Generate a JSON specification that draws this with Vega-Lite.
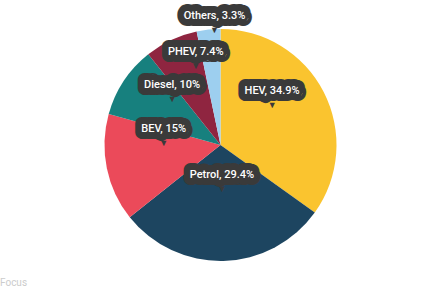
{
  "$schema": "https://vega.github.io/schema/vega-lite/v6.json",
  "width": 441,
  "height": 290,
  "padding": 0,
  "autosize": "none",
  "background": "white",
  "config": {"view": {"stroke": null}},
  "title": {"text": "Focus", "orient": "bottom", "anchor": "start", "frame": "group", "offset": -4, "fontSize": 10, "font": "Roboto", "color": "#cccccc", "fontWeight": "normal", "baseline": "alphabetic"},
  "data": {
    "values": [
      {"category": "HEV", "share": 34.9, "label": "HEV, 34.9%", "idx": 1},
      {"category": "Petrol", "share": 29.4, "label": "Petrol, 29.4%", "idx": 2},
      {"category": "BEV", "share": 15, "label": "BEV, 15%", "idx": 3},
      {"category": "Diesel", "share": 10, "label": "Diesel, 10%", "idx": 4},
      {"category": "PHEV", "share": 7.4, "label": "PHEV, 7.4%", "idx": 5},
      {"category": "Others", "share": 3.3, "label": "Others, 3.3%", "idx": 6}
    ]
  },
  "encoding": {
    "theta": {"field": "share", "type": "quantitative", "stack": true},
    "order": {"field": "idx", "type": "quantitative"}
  },
  "layer": [
    {
      "mark": {"type": "arc", "outerRadius": 116},
      "encoding": {
        "color": {"field": "category", "type": "nominal", "legend": null,
          "scale": {"domain": ["HEV", "Petrol", "BEV", "Diesel", "PHEV", "Others"],
                    "range": ["#fac42f", "#1d4560", "#eb4a5a", "#17807e", "#8f2540", "#9dcfef"]}}
      }
    },
    {
      "mark": {"type": "text", "radius": 58, "dy": -28, "font": "Roboto", "fontWeight": 500, "fontSize": 11, "fill": "#3a3a3a", "stroke": "#3a3a3a", "strokeWidth": 14, "strokeJoin": "round"},
      "encoding": {"text": {"field": "label"}, "detail": {"field": "category"},
        "opacity": {"condition": {"test": "datum.category === 'PHEV' || datum.category === 'Others'", "value": 0}, "value": 1}}
    },
    {
      "mark": {"type": "text", "radius": 58, "dy": -14, "text": "▼", "fontSize": 9, "fill": "#3a3a3a"},
      "encoding": {"detail": {"field": "category"},
        "opacity": {"condition": {"test": "datum.category === 'PHEV' || datum.category === 'Others'", "value": 0}, "value": 1}}
    },
    {
      "mark": {"type": "text", "radius": 58, "dy": -28, "font": "Roboto", "fontWeight": 500, "fontSize": 11, "fill": "white"},
      "encoding": {"text": {"field": "label"}, "detail": {"field": "category"},
        "opacity": {"condition": {"test": "datum.category === 'PHEV' || datum.category === 'Others'", "value": 0}, "value": 1}}
    },
    {
      "mark": {"type": "text", "radius": 58, "dy": -41, "font": "Roboto", "fontWeight": 500, "fontSize": 11, "fill": "#3a3a3a", "stroke": "#3a3a3a", "strokeWidth": 14, "strokeJoin": "round"},
      "encoding": {"text": {"field": "label"}, "detail": {"field": "category"},
        "opacity": {"condition": {"test": "datum.category === 'PHEV'", "value": 1}, "value": 0}}
    },
    {
      "mark": {"type": "text", "radius": 58, "dy": -27, "text": "▼", "fontSize": 9, "fill": "#3a3a3a"},
      "encoding": {"detail": {"field": "category"},
        "opacity": {"condition": {"test": "datum.category === 'PHEV'", "value": 1}, "value": 0}}
    },
    {
      "mark": {"type": "text", "radius": 58, "dy": -41, "font": "Roboto", "fontWeight": 500, "fontSize": 11, "fill": "white"},
      "encoding": {"text": {"field": "label"}, "detail": {"field": "category"},
        "opacity": {"condition": {"test": "datum.category === 'PHEV'", "value": 1}, "value": 0}}
    },
    {
      "mark": {"type": "text", "radius": 58, "dy": -71, "font": "Roboto", "fontWeight": 500, "fontSize": 11, "fill": "#3a3a3a", "stroke": "#3a3a3a", "strokeWidth": 14, "strokeJoin": "round"},
      "encoding": {"text": {"field": "label"}, "detail": {"field": "category"},
        "opacity": {"condition": {"test": "datum.category === 'Others'", "value": 1}, "value": 0}}
    },
    {
      "mark": {"type": "text", "radius": 58, "dy": -57, "text": "▼", "fontSize": 9, "fill": "#3a3a3a"},
      "encoding": {"detail": {"field": "category"},
        "opacity": {"condition": {"test": "datum.category === 'Others'", "value": 1}, "value": 0}}
    },
    {
      "mark": {"type": "text", "radius": 58, "dy": -71, "font": "Roboto", "fontWeight": 500, "fontSize": 11, "fill": "white"},
      "encoding": {"text": {"field": "label"}, "detail": {"field": "category"},
        "opacity": {"condition": {"test": "datum.category === 'Others'", "value": 1}, "value": 0}}
    }
  ]
}
